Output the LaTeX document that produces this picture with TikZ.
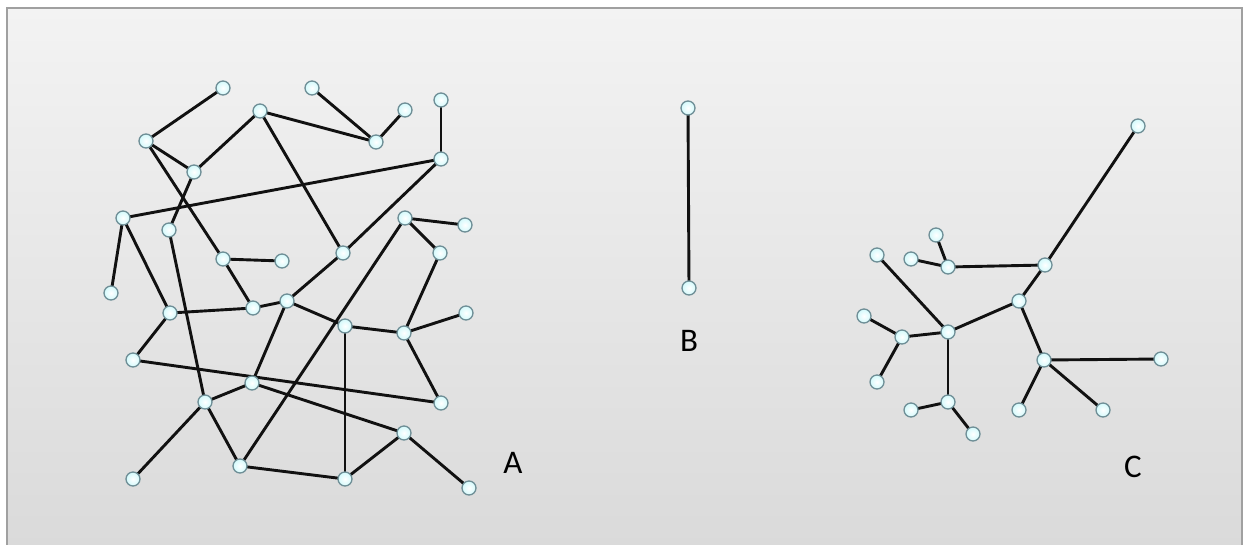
\documentclass[tikz,border=0pt]{standalone}
\usepackage{fontspec}
\setmainfont{Carlito}
\definecolor{edgeblk}{HTML}{111111}
\definecolor{nodefill}{HTML}{E2F3F7}
\definecolor{nodeline}{HTML}{6E8E96}
\definecolor{framecol}{HTML}{A0A0A0}
\definecolor{bgtop}{HTML}{F3F3F3}
\definecolor{bgbot}{HTML}{D9D9D9}
\tikzset{
  vtx/.style={circle, draw=nodeline, line width=1.3pt, inner color=white, outer color=nodefill!80!cyan!60!white, minimum size=14pt, inner sep=0pt},
  edg/.style={draw=edgeblk, line width=2.9pt},
  lbl/.style={font=\fontsize{33}{35}\selectfont, text=black, inner sep=0pt}
}
\begin{document}
\begin{tikzpicture}[x=1pt,y=-1pt]
\useasboundingbox (0,0) rectangle (1249,544);
\fill[white] (0,0) rectangle (1249,544);
\begin{scope}
\clip (0,0) rectangle (1249,544);
\shade[top color=bgtop, bottom color=bgbot, draw=framecol, line width=2pt] (7,8) rectangle (1242,570);
\end{scope}
% ---------- Graph A nodes
\foreach \n/\x/\y in {a1/223/88, a2/312/88, a3/441/100, a4/405/110, a5/260/111, a6/146/141, a7/376/142, a8/441/159, a9/194/172, a10/123/218, a11/405/218, a12/465/225, a13/169/230, a14/440/253, a15/343/253, a16/223/259, a17/282/261, a18/111/293, a19/170/313, a20/253/308, a21/287/301, a22/466/313, a23/345/326, a24/404/333, a25/133/360, a26/252/383, a27/205/402, a28/441/403, a29/404/433, a30/240/466, a31/133/479, a32/345/479, a33/469/488}
  {\coordinate (\n) at (\x,\y);}
% ---------- Graph B nodes
\coordinate (b1) at (688,108);
\coordinate (b2) at (689,288);
% ---------- Graph C nodes
\foreach \n/\x/\y in {c1/1138/126, c2/936/235, c3/877/255, c4/911/259, c5/948/267, c6/1045/265, c7/1019/301, c8/864/316, c9/902/337, c10/948/332, c11/1044/360, c12/1161/359, c13/877/382, c14/1019/410, c15/1103/410, c16/911/410, c17/948/402, c18/973/434}
  {\coordinate (\n) at (\x,\y);}
% ---------- edges
\foreach \p/\q in {a1/a6, a6/a9, a6/a16, a9/a5, a9/a13, a5/a7, a5/a15, a2/a7, a7/a4, a3/a8, a8/a10, a8/a15, a15/a21, a16/a17, a16/a20, a10/a18, a10/a19, a13/a27, a11/a12, a11/a14, a11/a30, a14/a24, a19/a20, a20/a21, a21/a23, a21/a26, a23/a24, a23/a32, a24/a22, a24/a28, a19/a25, a25/a28, a26/a27, a26/a29, a27/a31, a27/a30, a30/a32, a32/a29, a29/a33,
  b1/b2,
  c1/c6, c6/c5, c5/c4, c5/c2, c6/c7, c7/c10, c7/c11, c10/c3, c10/c9, c9/c8, c9/c13, c10/c17, c17/c16, c17/c18, c11/c12, c11/c14, c11/c15}
  {\draw[edg] (\p) -- (\q);}
% ---------- vertices drawn on top
\foreach \n in {a1,a2,a3,a4,a5,a6,a7,a8,a9,a10,a11,a12,a13,a14,a15,a16,a17,a18,a19,a20,a21,a22,a23,a24,a25,a26,a27,a28,a29,a30,a31,a32,a33,b1,b2,c1,c2,c3,c4,c5,c6,c7,c8,c9,c10,c11,c12,c13,c14,c15,c16,c17,c18}
  {\node[vtx] (v\n) at (\n) {};}
% ---------- labels
\node[lbl] (la) at (513,463) {A};
\node[lbl] (lb) at (689,341) {B};
\node[lbl] (lc) at (1133,467) {C};
\end{tikzpicture}
\end{document}
